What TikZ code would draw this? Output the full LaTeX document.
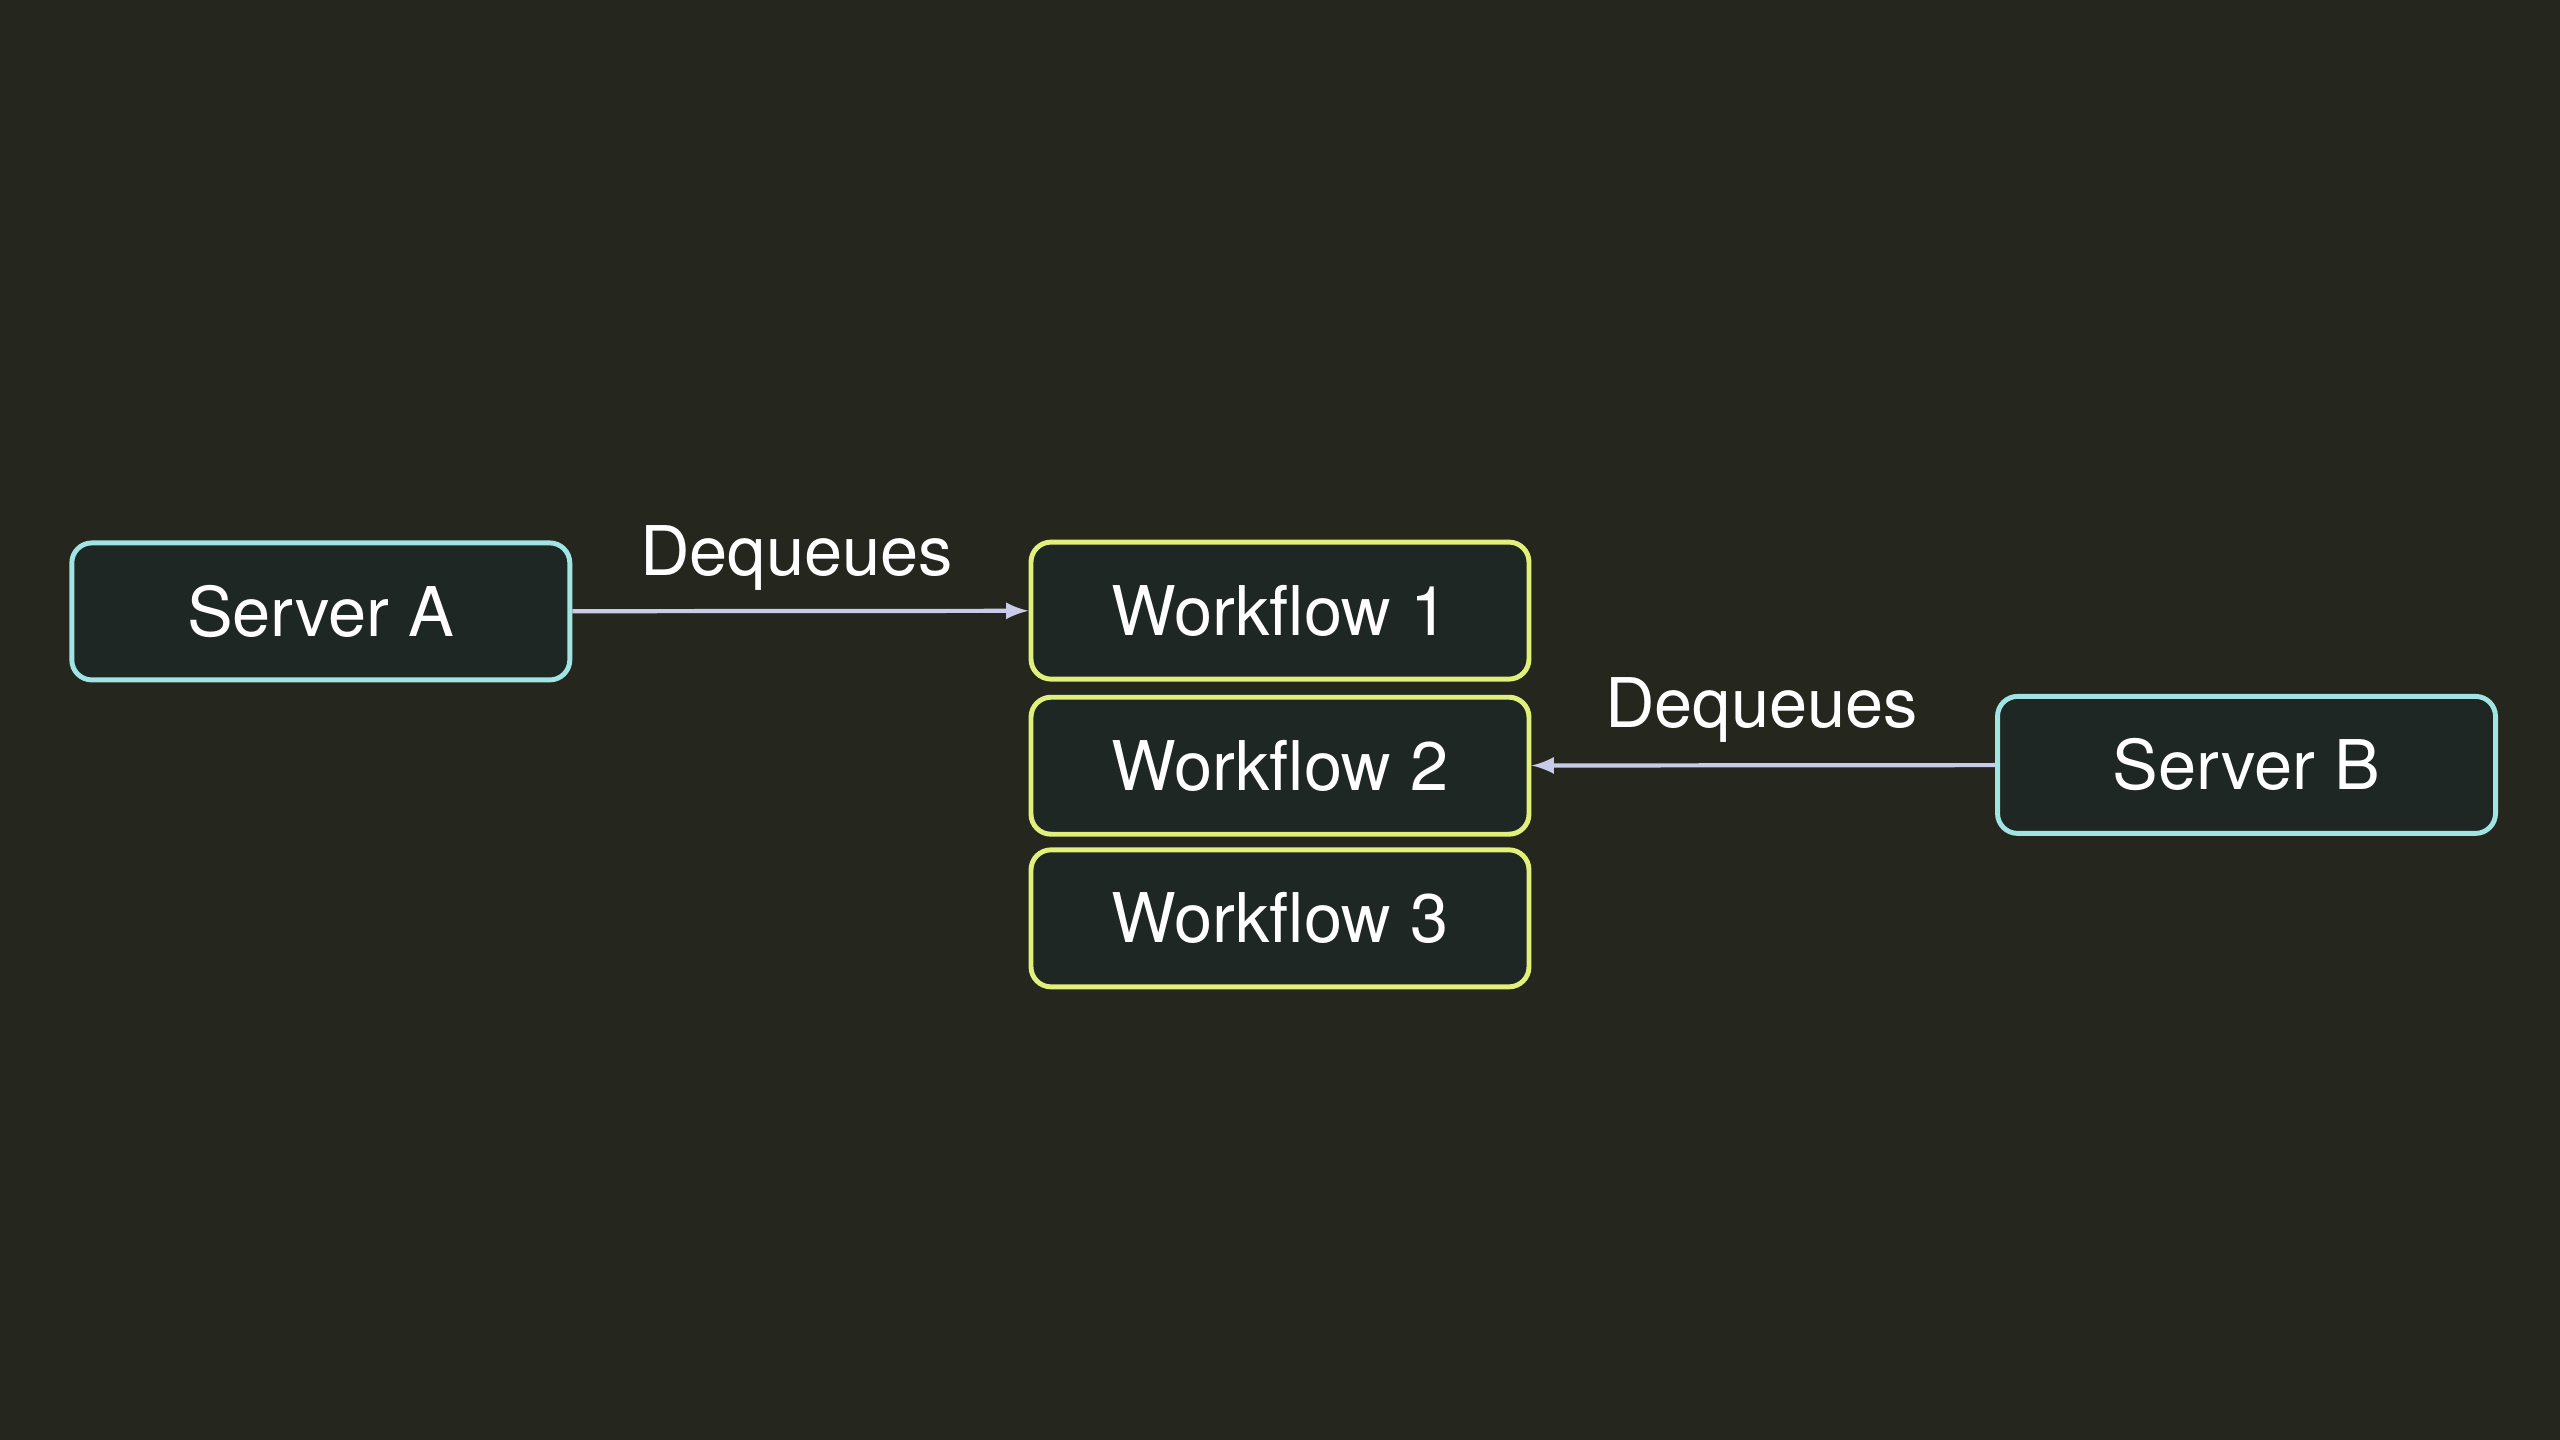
\documentclass[tikz,border=0pt]{standalone}
\usepackage{fontspec}
\setmainfont{TeX Gyre Heros}
\definecolor{bgcol}{HTML}{25271F}
\definecolor{boxfill}{HTML}{1E2724}
\definecolor{servercol}{HTML}{A0E4E4}
\definecolor{flowcol}{HTML}{E0F07A}
\definecolor{arrowcol}{HTML}{C8CCE8}
\begin{document}
\begin{tikzpicture}[x=0.016327cm,y=-0.016327cm]
\tikzstyle{box}=[draw,line width=1.4pt,fill=boxfill,rounded corners=0.2cm,minimum width=4.98cm,minimum height=1.37cm,text=white,font=\fontsize{19.5}{22}\selectfont]
\tikzstyle{server}=[box,draw=servercol]
\tikzstyle{flow}=[box,draw=flowcol]
\tikzstyle{label}=[text=white,font=\fontsize{19.5}{22}\selectfont]
\fill [bgcol] (0,0) rectangle (1568,882);
\node [server] (srvA) at (196.5,374.5) {Server A};
\node [flow] (wf1) at (784,374) {Workflow 1};
\node [flow] (wf2) at (784,469) {Workflow 2};
\node [flow] (wf3) at (784,562.5) {Workflow 3};
\node [server] (srvB) at (1376,468.5) {Server B};
\draw [arrowcol,line width=1.2pt,-latex] (srvA) -- (wf1);
\draw [arrowcol,line width=1.2pt,-latex] (srvB) -- (wf2);
\node [label] (lblA) at (488,342) {Dequeues};
\node [label] (lblB) at (1079,435) {Dequeues};
\end{tikzpicture}
\end{document}
